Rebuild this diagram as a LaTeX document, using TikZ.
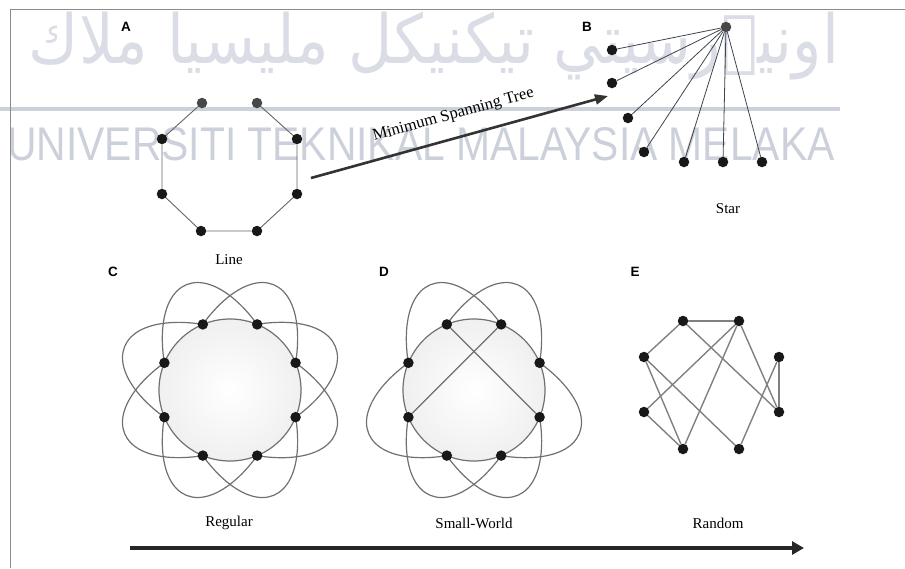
\documentclass[tikz,border=0pt]{standalone}
\usepackage{fontspec}
\setmainfont{Liberation Serif}
\newfontfamily\lblfont{Liberation Sans}
\newfontfamily\arabicfont[Script=Arabic]{DejaVu Sans}
\TeXXeTstate=1
\usetikzlibrary{arrows.meta,calc}
\definecolor{wm}{RGB}{204,208,218}
\definecolor{wmj}{RGB}{218,221,229}
\definecolor{edgeg}{RGB}{112,112,112}
\definecolor{stare}{RGB}{62,68,76}
\definecolor{dotc}{RGB}{24,24,24}
\definecolor{frameg}{RGB}{140,140,140}
\begin{document}
\begin{tikzpicture}[x=1pt,y=-1pt,
  dot/.style={circle, fill=dotc, inner sep=0pt, minimum size=10.5pt},
  gdot/.style={circle, fill=black!72, inner sep=0pt, minimum size=10.5pt},
  aedge/.style={draw=black!60, line width=0.9pt},
  sedge/.style={draw=stare, line width=0.8pt},
  ell/.style={draw=edgeg, line width=1.2pt},
  redge/.style={draw=black!50, line width=1.4pt},
  captxt/.style={font=\fontsize{15}{18}\selectfont, inner sep=0pt},
  msttxt/.style={font=\fontsize{16.5}{19}\selectfont, inner sep=0pt},
  plabel/.style={font=\lblfont\bfseries\fontsize{13.5}{15}\selectfont, inner sep=0pt},
  wmtext/.style={inner sep=0pt, text=wm},
  wmjtext/.style={inner sep=0pt, text=wmj}]
\useasboundingbox (0,0) rectangle (905,568);

% watermark
\node[wmjtext] (jawi) at (434,46) {\resizebox*{810pt}{68pt}{\arabicfont\beginR اونيۏرسيتي تيكنيكل مليسيا ملاك\endR}};
\draw[wm, line width=4pt] (0,109) -- (840,109);
\node[wmtext] (uni) at (421,144) {\resizebox{827pt}{33pt}{\lblfont UNIVERSITI TEKNIKAL MALAYSIA MELAKA}};

% frame
\draw[frameg, line width=1pt] (10,568) -- (10,9) -- (905,9);

% Panel A
\node[plabel] (lA) at (126,27) {A};
\node[gdot] (a1) at (202,103) {};
\node[gdot] (a2) at (257,103) {};
\node[dot] (a3) at (162,139) {};
\node[dot] (a4) at (297,139) {};
\node[dot] (a5) at (162,194) {};
\node[dot] (a6) at (297,194) {};
\node[dot] (a7) at (201,231) {};
\node[dot] (a8) at (257,231) {};
\draw[aedge] (a1) -- (a3) -- (a5) -- (a7) -- (a8) -- (a6) -- (a4) -- (a2);
\node[captxt] (tLine) at (229,260) {Line};

% MST arrow
\coordinate (m1) at (311,178);
\coordinate (m2) at (608,96);
\draw[draw=black!80, line width=2.6pt, -{Triangle[length=13pt,width=10pt]}] (m1) -- node[sloped, above=14pt, msttxt] (tMST) {Minimum Spanning Tree} (m2);

% Panel B
\node[plabel] (lB) at (587,27) {B};
\node[gdot] (s0) at (726,27) {};
\node[dot] (s1) at (612,50) {};
\node[dot] (s2) at (612,83) {};
\node[dot] (s3) at (628,118) {};
\node[dot] (s4) at (644,152) {};
\node[dot] (s5) at (684,162) {};
\node[dot] (s6) at (723,162) {};
\node[dot] (s7) at (762,162) {};
\foreach \i in {1,...,7} \draw[sedge] (s0) -- (s\i);
\node[captxt] (tStar) at (728,209) {Star};

% Panel C
\node[plabel] (lC) at (113,272) {C};
\coordinate (cC) at (230,390);
\foreach \t in {22.5,67.5,112.5,157.5}
  \draw[ell, rotate around={\t:(cC)}] (cC) ellipse[x radius=114pt, y radius=56pt];
\shade[inner color=white, outer color=black!6] (cC) circle[radius=71pt];
\draw[ell] (cC) circle[radius=71pt];
\foreach \k [evaluate=\k as \ang using 22.5+45*(\k-1)] in {1,...,8}
  \node[dot] (c\k) at ([shift={(\ang:71pt)}]cC) {};
\node[captxt] (tReg) at (229,523) {Regular};

% Panel D
\node[plabel] (lD) at (384,272) {D};
\coordinate (cD) at (474,390);
\foreach \t in {67.5,112.5}
  \draw[ell, rotate around={\t:(cD)}] (cD) ellipse[x radius=114pt, y radius=56pt];
\foreach \t in {202.5,337.5}{
  \begin{scope}[shift={(cD)}, rotate=\t]
    \draw[ell] (0pt,-56pt) arc[start angle=-90, end angle=90, x radius=114pt, y radius=56pt];
  \end{scope}}
\shade[inner color=white, outer color=black!6] (cD) circle[radius=71pt];
\draw[ell] (cD) circle[radius=71pt];
\foreach \k [evaluate=\k as \ang using 22.5+45*(\k-1)] in {1,...,8}
  \node[dot] (d\k) at ([shift={(\ang:71pt)}]cD) {};
\draw[ell] (d3) -- (d8);
\draw[ell] (d2) -- (d5);
\node[captxt] (tSW) at (474,523) {Small-World};

% Panel E
\node[plabel] (lE) at (635,272) {E};
\node[dot] (e1) at (683,321) {};
\node[dot] (e2) at (739,321) {};
\node[dot] (e3) at (644,357) {};
\node[dot] (e4) at (779,357) {};
\node[dot] (e5) at (644,412) {};
\node[dot] (e6) at (779,412) {};
\node[dot] (e7) at (683,449) {};
\node[dot] (e8) at (739,449) {};
\draw[redge] (e1) -- (e2);
\draw[redge] (e1) -- (e3);
\draw[redge] (e1) -- (e6);
\draw[redge] (e2) -- (e5);
\draw[redge] (e2) -- (e7);
\draw[redge] (e2) -- (e6);
\draw[redge] (e3) -- (e7);
\draw[redge] (e3) -- (e8);
\draw[redge] (e5) -- (e7);
\draw[redge] (e4) -- (e6);
\draw[redge] (e4) -- (e8);
\node[captxt] (tRand) at (718,523) {Random};

% bottom arrow
\coordinate (b1) at (130,548);
\coordinate (b2) at (804,548);
\draw[draw=black!85, line width=3.2pt, -{Triangle[length=12pt,width=13pt]}] (b1) -- (b2);
\end{tikzpicture}
\end{document}
